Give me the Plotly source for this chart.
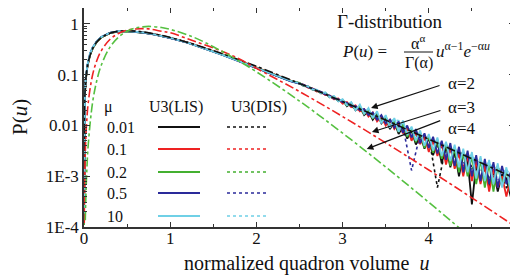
import plotly.graph_objects as go
import numpy as np

# ---------------- data ----------------
u_smooth = [0.00003, 0.001, 0.003, 0.01, 0.02, 0.04, 0.07, 0.1, 0.15, 0.2, 0.3, 0.4, 0.5,
            0.6, 0.7, 0.8, 0.9, 1.0, 1.2, 1.4, 1.6, 1.8, 2.0, 2.2, 2.4]
u_lis_tail = [round(2.5 + 0.05 * i, 2) for i in range(51)]
u_dis_tail = [round(2.5 + 0.1 * i, 1) for i in range(26)]

mu_labels = ["0.01", "0.1", "0.2", "0.5", "10"]
colors = ["#111111", "#ee2222", "#44b030", "#2a2a9a", "#6fd0e6"]

lis_smooth = [
    [1.2e-4, .004, .012, .040, .080, .150, .250, .335, .455, .55, .665, .715, .725, .705, .67, .63, .58, .53, .43, .33, .25, .185, .135, .100, .075],
    [1.2e-4, .0039, .0118, .039, .078, .148, .245, .330, .450, .545, .66, .712, .73, .71, .675, .635, .585, .535, .435, .335, .255, .19, .138, .103, .077],
    [1.1e-4, .0038, .0115, .038, .077, .146, .243, .328, .448, .54, .66, .71, .72, .705, .672, .632, .583, .532, .432, .332, .252, .188, .137, .102, .076],
    [1.3e-4, .0042, .0125, .042, .083, .155, .258, .34, .46, .555, .668, .718, .728, .708, .672, .628, .578, .528, .428, .328, .248, .183, .134, .099, .074],
    [1.3e-4, .0043, .0128, .043, .085, .158, .262, .345, .462, .556, .67, .72, .73, .71, .673, .63, .58, .53, .43, .33, .25, .186, .136, .101, .076],
]
lis_tail = [
    [.068, .060, .059, .051, .050, .043, .044, .036, .037, .030, .032, .024, .028, .020, .024, .016, .019, .013, .017, .011,
     .014, .0085, .012, .0068, .0095, .0055, .0080, .0042, .0066, .0035, .0058, .0026, .0049, .0018, .0040, .0015, .0031, .0010,
     .0027, .0021, .00028, .0017, .0008, .0016, .0006, .0013, .0005, .0011, .0009, .0004, .0006],
    [.066, .063, .056, .054, .047, .046, .040, .039, .033, .034, .027, .029, .023, .025, .019, .021, .015, .018, .012, .015,
     .010, .013, .0085, .011, .0070, .0092, .0050, .0078, .0043, .0062, .0030, .0052, .0025, .0044, .0017, .0038, .0014, .0030,
     .0010, .0026, .0008, .0020, .0007, .0017, .0005, .0014, .0006, .0010, .0004, .0009, .0005],
    [.069, .061, .058, .052, .049, .044, .043, .037, .036, .031, .031, .025, .026, .021, .023, .017, .020, .014, .016, .012,
     .015, .0095, .0125, .0075, .0105, .0060, .0088, .0047, .0072, .0036, .0062, .0029, .0052, .0022, .0045, .0016, .0036, .0012,
     .0030, .0010, .0025, .0007, .0021, .0006, .0018, .0005, .0016, .0007, .0013, .0005, .0010],
    [.067, .063, .057, .053, .049, .046, .041, .039, .034, .033, .029, .028, .024, .024, .020, .021, .016, .018, .013, .016,
     .011, .013, .0090, .012, .0072, .010, .0058, .0085, .0045, .0070, .0036, .0060, .0028, .0050, .0021, .0045, .0016, .0038,
     .0012, .0032, .0010, .0026, .0008, .0022, .0007, .0019, .0006, .0016, .0007, .0012, .0023],
    [.068, .061, .059, .051, .051, .043, .045, .036, .038, .030, .033, .025, .029, .020, .026, .017, .022, .014, .019, .011,
     .016, .0090, .014, .0075, .0125, .0065, .0095, .0050, .0080, .0040, .0068, .0032, .0058, .0025, .0048, .0020, .0042, .0015,
     .0035, .0012, .0030, .0009, .0025, .0008, .0021, .0007, .0018, .0006, .0015, .0005, .0012],
]
dis_smooth = [
    [1.2e-4, .0041, .0121, .041, .081, .151, .252, .337, .456, .552, .666, .716, .726, .706, .671, .631, .581, .531, .431, .331, .251, .186, .136, .101, .076],
    [1.1e-4, .0039, .0117, .039, .079, .149, .246, .331, .452, .546, .662, .713, .728, .709, .674, .634, .584, .534, .434, .334, .254, .189, .137, .102, .077],
    [1.2e-4, .0040, .0119, .040, .079, .149, .247, .332, .451, .547, .663, .714, .724, .706, .672, .631, .582, .532, .432, .332, .252, .187, .136, .101, .076],
    [1.3e-4, .0042, .0124, .041, .082, .153, .255, .339, .458, .553, .667, .717, .727, .707, .671, .629, .579, .529, .429, .329, .249, .184, .135, .100, .075],
    [1.3e-4, .0042, .0126, .042, .084, .156, .259, .342, .460, .555, .669, .719, .729, .709, .672, .630, .580, .530, .430, .330, .250, .185, .135, .100, .075],
]
dis_tail = [
    [.066, .058, .047, .043, .033, .031, .023, .022, .016, .016, .011, .012, .0080, .0085, .0052, .0060, .0006, .0040, .0022, .0030, .0015, .0020, .0009, .0014, .0006, .0008],
    [.068, .056, .050, .040, .036, .028, .026, .019, .019, .013, .014, .0090, .0098, .0062, .0070, .0040, .0050, .0026, .0035, .0016, .0026, .0010, .0018, .0006, .0013, .0005],
    [.067, .058, .048, .042, .034, .030, .024, .022, .017, .016, .012, .0115, .0082, .0082, .0058, .0058, .0038, .0042, .0024, .0030, .0014, .0022, .0009, .0016, .0007, .0011],
    [.068, .057, .049, .041, .035, .029, .025, .020, .018, .014, .013, .0095, .0095, .0013, .0068, .0045, .0048, .0028, .0034, .0018, .0024, .0012, .0017, .0008, .0012, .0006],
    [.067, .058, .048, .043, .034, .031, .024, .023, .017, .017, .012, .013, .012, .0060, .0068, .0042, .0052, .0028, .0036, .0019, .0027, .0013, .0019, .0009, .0014, .0007],
]

# Gamma-distribution reference curves
u_gamma = [0.00003, 0.001, 0.003, 0.005, 0.01, 0.015, 0.02, 0.03, 0.05, 0.1, 0.15, 0.2, 0.3, 0.4, 0.5, 0.6, 0.667,
           0.75, 0.9, 1.0, 1.25, 1.5, 1.75, 2.0, 2.5, 3.0, 3.5, 4.0, 4.5, 5.0]
gamma_a2 = [1.2e-4, .00399, .0119, .0198, .0392, .0582, .0769, .1130, .181, .3275, .4445, .536, .659, .719, .736, .723, .704,
            .669, .595, .541, .410, .299, .211, .1465, .0674, .0297, .01277, .00537, .00222, .000908]
gamma_a3 = [None, None, 1.2e-4, 3.32e-4, .00131, .00289, .00509, .01108, .02905, .1000, .193, .2964, .494, .6506, .753, .799, .811,
            .800, .720, .672, .478, .3375, .226, .1339, .04667, .01499, .004554, .001327, .000375, .0001032]
gamma_a4 = [None, None, None, None, None, 1.356e-4, 3.15e-4, .00102, .00437, .0286, .0787, .1534, .347, .5513, .7218, .836, .870,
            .896, .850, .7815, .568, .357, .208, .1145, .03027, .00708, .001521, .000307, 5.92e-5, None]
gamma_alpha = ["2", "3", "4"]

# ---------------- figure ----------------
FONT = "Liberation Serif"
fig = go.Figure()

for i in range(5):
    fig.add_trace(go.Scatter(x=u_smooth + u_dis_tail, y=dis_smooth[i] + dis_tail[i], mode="lines",
                             line=dict(color=colors[i], width=1.6, dash="dot"), showlegend=False))
for i in range(5):
    fig.add_trace(go.Scatter(x=u_smooth + u_lis_tail, y=lis_smooth[i] + lis_tail[i], mode="lines",
                             line=dict(color=colors[i], width=1.8), showlegend=False))

for vals, col in [(gamma_a2, "#111111"), (gamma_a3, "#ee2222"), (gamma_a4, "#55c040")]:
    fig.add_trace(go.Scatter(x=u_gamma, y=vals, mode="lines", line=dict(color=col, width=1.6, dash="dashdot"),
                             line_shape="spline", connectgaps=False, showlegend=False))

# page has an 8px body margin: figure is placed at (8, 8)
OFF = 8
FIG_W, FIG_H = 518 - OFF, 280 - OFF
L, R, T, B = 84, 515, 8, 227   # plot area in page pixels
W, H = R - L, B - T
def px(x):
    return (x - L) / W
def py(y):
    return (B - y) / H

ann = []
def txt(x, y, s, size=16, xanchor="center", **kw):
    ann.append(dict(x=px(x), y=py(y), xref="paper", yref="paper", text=s, showarrow=False,
                    xanchor=xanchor, yanchor="middle", font=dict(family=FONT, size=size, color="#111"), **kw))

# legend
txt(102, 107, "μ", xanchor="left")
txt(176, 107, "U3(LIS)")
txt(259, 107, "U3(DIS)")
rows = [127, 149, 172, 193, 216]
shapes = []
for lab, yy, col in zip(mu_labels, rows, colors):
    txt(105, yy, lab, xanchor="left")
    shapes.append(dict(type="line", xref="paper", yref="paper", x0=px(158), x1=px(200), y0=py(yy), y1=py(yy),
                       line=dict(color=col, width=1.8)))
    shapes.append(dict(type="line", xref="paper", yref="paper", x0=px(227), x1=px(267), y0=py(yy), y1=py(yy),
                       line=dict(color=col, width=1.4, dash="dot")))

# Gamma distribution text
txt(389, 21, "Γ-distribution", size=19)
txt(364, 51, "<i>P</i>(<i>u</i>) =", size=17)
txt(418, 42, "α<sup>α</sup>", size=16)
txt(419, 63, "Γ(α)", size=16)
shapes.append(dict(type="line", xref="paper", yref="paper", x0=px(404), x1=px(433), y0=py(52), y1=py(52),
                   line=dict(color="#111", width=1)))
txt(434, 50, "<i>u</i><sup>α−1</sup><i>e</i><sup>−α<i>u</i></sup>", size=17, xanchor="left")

for a, yy in zip(gamma_alpha, [83, 107, 128]):
    txt(446, yy, "α=" + a, size=17, xanchor="left")

# arrows
for (ux, ly, axp, ayp) in [(3.33, -1.655, 70, -23), (3.34, -2.128, 70, -22), (3.28, -2.463, 75, -29)]:
    ann.append(dict(x=ux, y=ly, xref="x", yref="y", text="", showarrow=True, ax=axp, ay=ayp,
                    arrowhead=2, arrowsize=1.1, arrowwidth=1.2, arrowcolor="#111", standoff=0))

# axis titles
ann.append(dict(x=px(20), y=py(117), xref="paper", yref="paper", text="P(<i>u</i>)", showarrow=False,
                textangle=-90, xanchor="center", yanchor="middle", font=dict(family=FONT, size=21, color="#111")))
ann.append(dict(x=px(307), y=py(263), xref="paper", yref="paper", text="normalized quadron volume  <i>u</i>",
                showarrow=False, xanchor="center", yanchor="middle", font=dict(family=FONT, size=20, color="#111")))

minor_y = [m * 10 ** e for e in range(-4, 1) for m in range(2, 10)]
minor_y = [v for v in minor_y if v < 2.0]

fig.update_layout(
    width=FIG_W, height=FIG_H,
    margin=dict(l=L - OFF, r=518 - R, t=T - OFF, b=280 - B, autoexpand=False),
    paper_bgcolor="white", plot_bgcolor="white",
    annotations=ann, shapes=shapes, showlegend=False,
    font=dict(family=FONT, size=17, color="#111"),
)
fig.update_xaxes(range=[0, 5], tickvals=[0, 1, 2, 3, 4, 5], ticks="inside", ticklen=5, tickwidth=1,
                 tickcolor="#333", showline=True, linecolor="#333", linewidth=1.5, mirror="ticks",
                 ticklabelstandoff=-5,
                 showgrid=False, zeroline=False, automargin=False, tickfont=dict(family=FONT, size=17, color="#111"),
                 minor=dict(tickvals=[0.5, 1.5, 2.5, 3.5, 4.5], ticks="inside", ticklen=3, tickcolor="#333", showgrid=False))
fig.update_yaxes(type="log", range=[-4, 0.315], tickvals=[1e-4, 1e-3, 1e-2, 1e-1, 1],
                 ticktext=["1E-4", "1E-3", "0.01", "0.1", "1"], ticks="inside", ticklen=6, tickwidth=1,
                 tickcolor="#333", showline=True, linecolor="#333", linewidth=1.5, mirror="ticks",
                 showgrid=False, zeroline=False, automargin=False, tickfont=dict(family=FONT, size=17, color="#111"),
                 minor=dict(tickvals=minor_y, ticks="inside", ticklen=3, tickcolor="#333", showgrid=False))

fig.write_html("out.html")
